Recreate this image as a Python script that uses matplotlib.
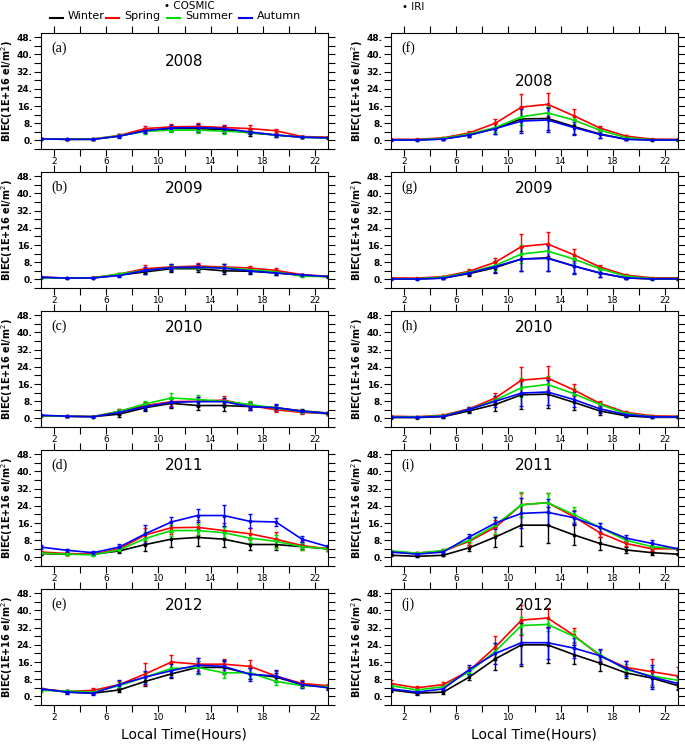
import numpy as np
import matplotlib
matplotlib.use("Agg")
import matplotlib.pyplot as plt
from matplotlib.ticker import MultipleLocator, FixedLocator, FormatStrFormatter

hours = [1, 3, 5, 7, 9, 11, 13, 15, 17, 19, 21, 23]
seasons = ["Winter", "Spring", "Summer", "Autumn"]
colors = ["black", "red", "#00dd00", "blue"]

# COSMIC means (Winter, Spring, Summer, Autumn)
cosmic_2008 = [
    [0.8, 0.5, 0.5, 2.0, 4.5, 5.5, 5.5, 5.0, 3.5, 2.5, 1.5, 1.2],
    [0.8, 0.5, 0.7, 2.3, 5.5, 6.3, 6.5, 6.0, 5.5, 4.5, 1.8, 1.5],
    [0.6, 0.5, 0.6, 2.2, 4.2, 4.8, 4.8, 4.3, 3.8, 2.5, 1.5, 1.2],
    [0.7, 0.5, 0.5, 2.0, 4.5, 5.8, 6.0, 5.5, 4.0, 2.5, 1.5, 1.2],
]
cosmic_2009 = [
    [1.0, 0.6, 0.7, 2.0, 3.5, 5.0, 5.0, 4.0, 3.8, 3.0, 2.0, 1.3],
    [1.0, 0.6, 0.8, 2.5, 5.0, 5.8, 6.2, 5.8, 5.3, 4.2, 2.2, 1.4],
    [0.8, 0.6, 0.7, 2.5, 4.2, 5.5, 5.5, 5.5, 4.5, 3.5, 1.5, 1.3],
    [1.0, 0.6, 0.7, 1.8, 4.2, 5.5, 5.7, 5.2, 4.0, 3.0, 2.1, 1.3],
]
cosmic_2010 = [
    [1.3, 1.0, 0.8, 2.0, 5.0, 7.0, 6.0, 6.0, 5.5, 5.0, 3.5, 2.5],
    [1.3, 1.0, 0.8, 3.3, 6.0, 7.8, 8.0, 8.5, 6.0, 4.0, 2.8, 2.2],
    [1.3, 1.0, 0.8, 3.3, 6.8, 9.5, 8.8, 8.0, 6.5, 4.8, 3.2, 2.2],
    [1.5, 1.0, 0.8, 2.8, 5.5, 7.5, 7.8, 7.8, 5.5, 5.0, 3.3, 2.3],
]
cosmic_2011 = [
    [1.8, 1.5, 1.5, 3.0, 6.0, 8.5, 9.3, 8.5, 6.0, 6.0, 5.0, 4.0],
    [2.5, 1.8, 1.5, 4.0, 10.5, 13.8, 14.0, 12.5, 11.0, 8.5, 5.5, 4.0],
    [2.0, 1.5, 1.2, 3.5, 8.8, 12.5, 12.5, 11.5, 9.0, 7.5, 5.0, 4.0],
    [4.8, 3.3, 2.2, 4.8, 11.0, 16.5, 19.5, 19.5, 16.8, 16.5, 8.5, 5.0],
]
cosmic_2012 = [
    [3.5, 2.0, 1.5, 3.0, 7.0, 10.5, 13.5, 13.5, 10.5, 9.0, 5.5, 4.5],
    [3.5, 2.3, 2.8, 5.5, 10.5, 16.0, 15.0, 15.0, 14.0, 9.5, 6.0, 5.0],
    [2.8, 2.5, 2.0, 5.0, 9.0, 13.0, 13.5, 11.0, 11.0, 7.0, 5.0, 4.5],
    [3.5, 2.0, 1.5, 5.5, 9.0, 12.0, 14.5, 14.0, 10.3, 9.5, 5.5, 4.0],
]

# COSMIC standard deviations
cosmic_2008_err = [
    [0.2, 0.1, 0.2, 0.6, 1.0, 1.2, 1.5, 1.6, 1.5, 0.8, 0.4, 0.3],
    [0.2, 0.1, 0.2, 0.6, 1.0, 1.2, 1.5, 1.2, 1.5, 1.0, 0.4, 0.3],
    [0.2, 0.1, 0.2, 0.6, 1.0, 1.0, 1.2, 1.2, 1.0, 0.6, 0.4, 0.3],
    [0.2, 0.1, 0.2, 0.8, 1.2, 1.5, 1.5, 1.4, 1.2, 0.7, 0.4, 0.3],
]
cosmic_2009_err = [
    [0.2, 0.1, 0.2, 0.6, 1.0, 1.5, 1.5, 1.5, 1.2, 0.8, 0.5, 0.3],
    [0.2, 0.1, 0.2, 0.6, 1.8, 1.2, 1.5, 1.2, 1.0, 1.0, 0.5, 0.3],
    [0.2, 0.1, 0.2, 0.6, 1.2, 1.2, 1.2, 1.5, 1.0, 0.8, 0.5, 0.3],
    [0.2, 0.1, 0.2, 0.6, 1.5, 1.5, 1.5, 1.8, 1.2, 0.8, 0.6, 0.3],
]
cosmic_2010_err = [
    [0.3, 0.2, 0.2, 1.2, 1.5, 2.0, 2.2, 2.5, 1.5, 1.2, 0.8, 0.5],
    [0.3, 0.2, 0.2, 1.0, 1.5, 2.0, 2.0, 2.0, 1.5, 1.2, 0.8, 0.5],
    [0.3, 0.2, 0.2, 1.0, 1.5, 2.5, 2.0, 1.5, 1.5, 1.0, 0.8, 0.5],
    [0.3, 0.2, 0.2, 1.0, 1.5, 2.0, 2.0, 1.8, 1.5, 1.5, 0.8, 0.5],
]
cosmic_2011_err = [
    [0.6, 0.5, 0.5, 1.0, 3.0, 3.5, 4.0, 3.5, 2.5, 2.5, 1.2, 0.8],
    [0.6, 0.5, 0.5, 1.2, 3.0, 3.0, 3.5, 3.5, 2.5, 3.5, 2.0, 0.8],
    [0.6, 0.5, 0.5, 1.2, 3.0, 2.5, 3.0, 2.8, 2.5, 3.0, 1.5, 0.8],
    [1.0, 0.8, 0.8, 1.5, 4.2, 2.3, 3.0, 5.0, 3.3, 2.0, 1.3, 0.8],
]
cosmic_2012_err = [
    [0.6, 0.6, 0.5, 1.0, 2.0, 2.0, 3.0, 3.0, 2.5, 2.0, 1.2, 1.0],
    [0.6, 0.6, 1.0, 1.5, 5.0, 3.2, 3.0, 2.5, 3.0, 2.5, 1.5, 1.0],
    [0.6, 0.6, 0.8, 1.5, 2.5, 3.0, 3.0, 2.5, 2.5, 1.5, 1.2, 1.0],
    [0.6, 0.8, 0.8, 2.0, 3.0, 3.0, 3.5, 3.0, 3.0, 3.0, 1.5, 1.0],
]

# IRI means (Winter, Spring, Summer, Autumn)
iri_2008 = [
    [0.2, 0.2, 0.7, 2.5, 5.5, 10.0, 10.2, 6.5, 3.0, 0.6, 0.2, 0.2],
    [0.5, 0.5, 1.2, 3.5, 8.0, 15.5, 16.8, 11.5, 5.8, 2.0, 0.6, 0.5],
    [0.3, 0.3, 0.9, 3.0, 6.0, 11.0, 12.8, 9.5, 4.8, 1.3, 0.3, 0.3],
    [0.2, 0.2, 0.6, 2.5, 5.5, 9.0, 9.5, 6.0, 2.8, 0.5, 0.2, 0.2],
]
iri_2009 = [
    [0.2, 0.2, 0.6, 2.7, 5.5, 9.5, 10.0, 6.3, 3.0, 0.7, 0.2, 0.2],
    [0.7, 0.6, 1.3, 3.8, 8.0, 15.3, 16.5, 11.5, 5.8, 2.0, 0.7, 0.7],
    [0.3, 0.3, 1.0, 3.3, 6.5, 11.8, 13.2, 9.5, 5.0, 1.5, 0.4, 0.4],
    [0.2, 0.2, 0.6, 3.0, 6.0, 9.5, 9.8, 6.2, 3.0, 0.7, 0.3, 0.3],
]
iri_2010 = [
    [0.4, 0.4, 0.8, 3.5, 6.5, 11.0, 11.3, 7.5, 3.5, 1.2, 0.5, 0.5],
    [1.0, 0.8, 1.5, 4.5, 9.5, 17.8, 18.8, 13.3, 7.0, 2.8, 1.2, 1.0],
    [0.8, 0.6, 1.3, 4.2, 8.5, 14.3, 15.8, 11.5, 6.5, 2.3, 0.8, 0.8],
    [0.6, 0.5, 1.0, 4.2, 8.0, 11.8, 12.3, 8.8, 4.5, 1.8, 0.7, 0.7],
]
iri_2011 = [
    [1.0, 0.5, 1.0, 4.5, 9.5, 15.0, 15.0, 10.5, 6.5, 3.5, 2.2, 1.5],
    [2.5, 2.0, 3.0, 7.5, 14.0, 24.5, 25.5, 19.0, 11.5, 6.5, 4.0, 4.0],
    [3.0, 2.0, 3.2, 8.0, 15.0, 24.5, 25.5, 20.0, 14.0, 8.0, 5.0, 4.0],
    [2.5, 1.5, 2.5, 9.5, 16.0, 20.5, 21.0, 18.5, 14.0, 9.0, 6.5, 4.0],
]
iri_2012 = [
    [3.0, 1.5, 2.0, 9.0, 17.5, 24.0, 24.0, 19.5, 15.5, 11.0, 8.5, 5.0],
    [6.0, 4.0, 5.5, 12.0, 23.0, 35.5, 36.5, 28.5, 19.0, 13.5, 11.5, 9.5],
    [5.0, 3.0, 4.5, 11.5, 21.0, 33.0, 33.5, 28.0, 19.5, 12.5, 9.5, 7.5],
    [3.5, 2.0, 3.5, 12.5, 20.0, 25.0, 25.0, 22.5, 19.0, 13.0, 9.0, 6.0],
]

# IRI standard deviations
iri_2008_err = [
    [0.1, 0.1, 0.3, 1.0, 2.5, 5.5, 5.5, 3.5, 1.8, 0.4, 0.1, 0.1],
    [0.1, 0.1, 0.4, 1.0, 2.0, 6.0, 5.5, 3.0, 0.7, 0.4, 0.1, 0.1],
    [0.1, 0.1, 0.3, 1.0, 2.0, 4.0, 3.5, 2.0, 0.8, 0.3, 0.1, 0.1],
    [0.1, 0.1, 0.3, 1.0, 2.5, 5.5, 5.5, 3.5, 1.8, 0.4, 0.1, 0.1],
]
iri_2009_err = [
    [0.1, 0.1, 0.3, 1.0, 2.5, 5.5, 6.0, 3.5, 1.8, 0.4, 0.1, 0.1],
    [0.1, 0.1, 0.4, 1.0, 2.0, 6.0, 5.5, 2.7, 0.7, 0.4, 0.1, 0.1],
    [0.1, 0.1, 0.3, 1.0, 2.0, 4.0, 3.5, 2.0, 0.8, 0.3, 0.1, 0.1],
    [0.1, 0.1, 0.3, 1.0, 2.5, 5.5, 6.0, 3.5, 1.8, 0.4, 0.1, 0.1],
]
iri_2010_err = [
    [0.2, 0.2, 0.4, 1.0, 3.0, 6.5, 6.5, 3.5, 2.0, 0.6, 0.2, 0.2],
    [0.2, 0.2, 0.5, 0.8, 2.3, 6.0, 5.6, 2.8, 1.0, 0.5, 0.2, 0.2],
    [0.2, 0.2, 0.4, 0.8, 2.0, 4.5, 4.0, 2.5, 1.0, 0.5, 0.2, 0.2],
    [0.2, 0.2, 0.4, 1.0, 2.5, 6.0, 6.0, 3.5, 1.8, 0.5, 0.2, 0.2],
]
iri_2011_err = [
    [0.4, 0.4, 0.5, 1.5, 4.5, 9.5, 8.5, 4.5, 3.0, 1.5, 1.0, 0.5],
    [0.5, 0.5, 0.8, 1.5, 3.5, 5.5, 4.5, 3.0, 2.0, 1.0, 1.0, 0.5],
    [0.5, 0.5, 0.8, 1.5, 4.0, 5.8, 4.7, 3.4, 2.0, 1.0, 1.0, 0.5],
    [0.5, 0.5, 0.8, 1.5, 3.0, 7.0, 6.0, 3.0, 2.0, 1.2, 1.5, 0.5],
]
iri_2012_err = [
    [1.0, 0.8, 1.0, 1.5, 5.0, 10.0, 8.5, 4.5, 3.5, 2.5, 4.0, 1.5],
    [1.5, 1.0, 1.0, 1.5, 5.0, 7.0, 4.5, 3.5, 2.5, 3.0, 6.0, 4.0],
    [1.0, 1.0, 1.0, 1.5, 4.0, 4.0, 3.0, 2.5, 2.0, 2.5, 4.0, 2.0],
    [1.0, 0.8, 1.0, 2.0, 5.0, 10.0, 7.5, 4.5, 3.0, 3.5, 5.5, 3.0],
]

years = ["2008", "2009", "2010", "2011", "2012"]
cosmic_means = [cosmic_2008, cosmic_2009, cosmic_2010, cosmic_2011, cosmic_2012]
cosmic_errs = [cosmic_2008_err, cosmic_2009_err, cosmic_2010_err, cosmic_2011_err, cosmic_2012_err]
iri_means = [iri_2008, iri_2009, iri_2010, iri_2011, iri_2012]
iri_errs = [iri_2008_err, iri_2009_err, iri_2010_err, iri_2011_err, iri_2012_err]
left_letters = ["(a)", "(b)", "(c)", "(d)", "(e)"]
right_letters = ["(f)", "(g)", "(h)", "(i)", "(j)"]
left_year_y = [36.5, 42.5, 42.5, 43, 42.5]
right_year_y = [27.5, 42.5, 42.5, 43, 42.5]

W, H = 685, 751
fig = plt.figure(figsize=(W / 100, H / 100), dpi=100)


def make_panel(x0, top, means, errs, letter, year, year_y):
    ax = fig.add_axes([x0 / W, (H - top - 116) / H, 287 / W, 116 / H])
    for k in range(4):
        ax.errorbar(hours, means[k], yerr=errs[k], color=colors[k], lw=1.2,
                    elinewidth=1.0, capsize=1.5, capthick=1.0,
                    marker="s", markersize=2)
    ax.set_xlim(1, 23)
    ax.set_ylim(-4, 50)
    ax.xaxis.set_major_locator(FixedLocator([2, 6, 10, 14, 18, 22]))
    ax.xaxis.set_minor_locator(MultipleLocator(2))
    ax.yaxis.set_major_locator(MultipleLocator(8))
    ax.yaxis.set_minor_locator(MultipleLocator(4))
    ax.yaxis.set_major_formatter(FormatStrFormatter("%d."))
    ax.tick_params(which="both", direction="out", top=True, right=True,
                   width=0.8, length=5, labelsize=6.5)
    ax.tick_params(axis="y", which="major", pad=1)
    ax.tick_params(axis="x", pad=1)
    for lab in ax.get_yticklabels():
        lab.set_fontweight("bold")
    for s in ax.spines.values():
        s.set_linewidth(0.8)
    ax.set_ylabel("BIEC(1E+16 el/m$^2$)", fontsize=7, fontweight="bold", labelpad=1)
    ax.text(0.035, 0.93, letter, transform=ax.transAxes, fontsize=10,
            family="Liberation Serif", va="top", ha="left")
    ax.text(12, year_y, year, fontsize=11, ha="center", va="center")
    return ax


tops = [33, 172, 311, 450, 589]
for i in range(5):
    make_panel(41, tops[i], cosmic_means[i], cosmic_errs[i], left_letters[i],
               years[i], left_year_y[i])
    make_panel(391, tops[i], iri_means[i], iri_errs[i], right_letters[i],
               years[i], right_year_y[i])

fig.text(184 / W, 1 - 735 / H, "Local Time(Hours)", fontsize=10, ha="center", va="center")
fig.text(534 / W, 1 - 735 / H, "Local Time(Hours)", fontsize=10, ha="center", va="center")

# legend across the top
leg_x = [50, 106, 167, 239]
for k in range(4):
    x = leg_x[k]
    fig.add_artist(plt.Line2D([x / W, (x + 13) / W], [1 - 18 / H, 1 - 18 / H],
                              color=colors[k], lw=1.5, transform=fig.transFigure))
    fig.text((x + 18) / W, 1 - 16 / H, seasons[k], fontsize=8, ha="left", va="center")
fig.text(164 / W, 1 - 6 / H, "• COSMIC", fontsize=7.5, ha="left", va="center")
fig.text(402 / W, 1 - 7 / H, "• IRI", fontsize=7.5, ha="left", va="center")

fig.savefig("out.png", dpi=100)
